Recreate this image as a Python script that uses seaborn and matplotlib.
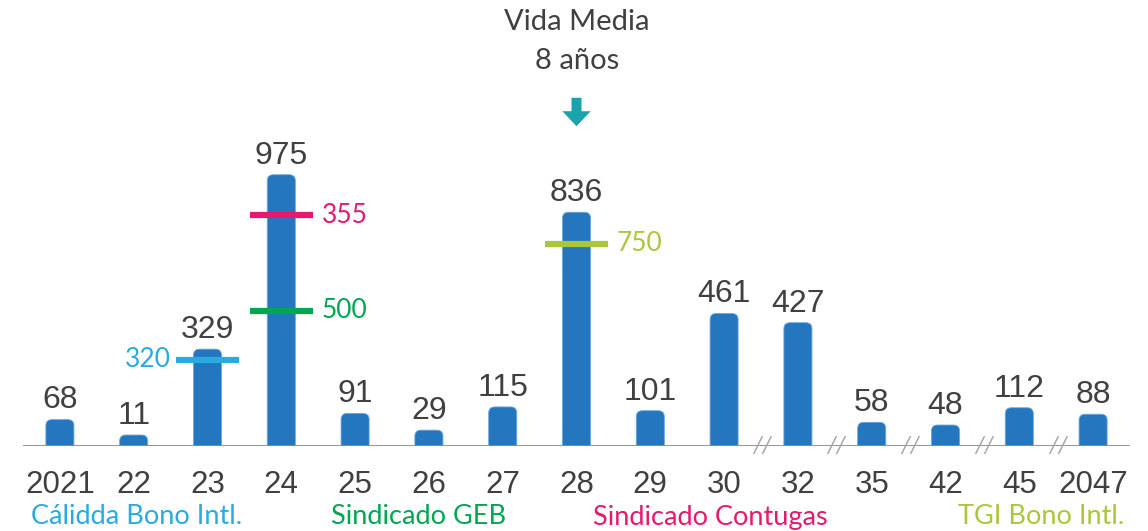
import matplotlib
matplotlib.use('Agg')
import matplotlib.pyplot as plt
import seaborn as sns
import numpy as np
import pandas as pd
from matplotlib.patches import FancyBboxPatch

# data
years = ['2021', '22', '23', '24', '25', '26', '27', '28', '29', '30', '32', '35', '42', '45', '2047']
amounts = [68, 11, 329, 975, 91, 29, 115, 836, 101, 461, 427, 58, 48, 112, 88]

# tranche markers (stacked when several fall on the same year)
marker_years = ['23', '24', '24', '28']
marker_values = [320, 500, 355, 750]
marker_names = ['Cálidda Bono Intl.', 'Sindicado GEB', 'Sindicado Contugas', 'TGI Bono Intl.']
marker_colors = ['#29ABE2', '#00A651', '#E6196F', '#A8C83A']

# axis breaks after these years
break_after = ['30', '32', '35', '42', '45']

avg_life_year = '28'

bar_color = '#2476BE'
text_color = '#404040'
num_font = 'Liberation Sans'
thin_font = 'Lato'

sns.set_theme(style='white')
plt.rcParams['font.family'] = ['Liberation Sans', 'DejaVu Sans']

df = pd.DataFrame({'year': years, 'amount': amounts})

fig = plt.figure(figsize=(11.48, 5.31), dpi=100)
ax_h = 308
ax = fig.add_axes([23 / 1148, 85 / 531, 1107 / 1148, ax_h / 531])

sns.barplot(data=df, x='year', y='amount', color=bar_color, width=0.38,
            saturation=1, ax=ax, order=years)

px_per_y = 0.27
ymax = ax_h / px_per_y
ax.set_xlim(-0.5, len(years) - 0.5)
ax.set_ylim(0, ymax)

# replace bars by top-rounded ones (small base lift like the original)
px_per_x = 1107 / len(years)
aspect = px_per_x / px_per_y
lift = 8 / px_per_y
for p in list(ax.patches):
    x0, w, h = p.get_x(), p.get_width(), p.get_height()
    p.set_visible(False)
    r = 6 / px_per_x
    fb = FancyBboxPatch((x0, -40), w, h + 40 + lift,
                        boxstyle=f'round,pad=0,rounding_size={r}',
                        mutation_aspect=aspect, facecolor=bar_color,
                        edgecolor='#6aa6da', linewidth=0.6)
    ax.add_patch(fb)

# value labels
for i, v in enumerate(amounts):
    ax.annotate(str(v), (i, v + lift), xytext=(0, 3), textcoords='offset points',
                ha='center', va='bottom', fontsize=23, color=text_color,
                family=num_font)

# tranche markers
levels = {}
for yr, val, col in zip(marker_years, marker_values, marker_colors):
    i = years.index(yr)
    lvl = levels.get(yr, 0) + val
    levels[yr] = lvl
    ax.plot([i - 0.43, i + 0.43], [lvl, lvl], color=col, lw=4.5,
            solid_capstyle='butt', zorder=5)
    if yr == years[2]:
        ax.text(i - 0.5, lvl, str(val), ha='right', va='center', fontsize=19,
                color=col, family=thin_font)
    else:
        ax.text(i + 0.55, lvl, str(val), ha='left', va='center', fontsize=19,
                color=col, family=thin_font)

# baseline and break marks
ax.axhline(0, color='#8c8c8c', lw=1.3, zorder=6)
for yr in break_after:
    i = years.index(yr)
    ax.text(i + 0.52, 0, '//', ha='center', va='center', fontsize=17,
            color='#a6a6a6', family=thin_font, style='italic',
            clip_on=False, zorder=7)

# average life annotation
i = years.index(avg_life_year)
ax.annotate('', xy=(i, (446 - 129) / px_per_y), xytext=(i, (446 - 95) / px_per_y),
            arrowprops=dict(arrowstyle='simple,head_width=1.7,head_length=0.9,tail_width=0.6',
                            color='#1AA3AC', lw=0), annotation_clip=False)
fig.text(577 / 1148, 1 - 22 / 531, 'Vida Media', ha='center', va='center',
         fontsize=21, color=text_color, family=thin_font)
fig.text(577 / 1148, 1 - 61 / 531, '8 años', ha='center', va='center',
         fontsize=21, color=text_color, family=thin_font)

# axes styling
ax.set_xlabel('')
ax.set_ylabel('')
ax.set_yticks([])
ax.tick_params(axis='x', length=0, pad=17, labelsize=22.5, labelcolor=text_color)
for lbl in ax.get_xticklabels():
    lbl.set_family(num_font)
sns.despine(ax=ax, left=True, bottom=True)

# tranche names at the bottom
name_x = [137, 419, 710, 1041]
for nm, col, xp in zip(marker_names, marker_colors, name_x):
    fig.text(xp / 1148, 14 / 531, nm, ha='center', va='center', fontsize=19.5,
             color=col, family=thin_font)

fig.savefig('out.png', dpi=100)
